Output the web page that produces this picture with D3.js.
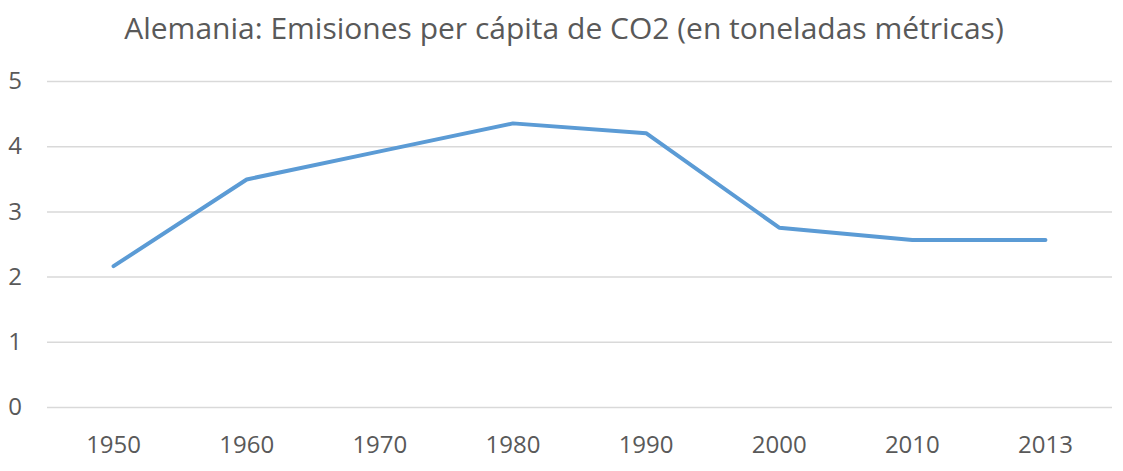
<!DOCTYPE html>
<html>
<head>
<meta charset="utf-8">
<script src="https://cdn.jsdelivr.net/npm/d3@7"></script>
<style>
  body { margin: 0; background: #fff; }
  svg { display: block; }
</style>
</head>
<body>
<svg id="chart" width="1123" height="471"></svg>
<script>
const years = ['1950', '1960', '1970', '1980', '1990', '2000', '2010', '2013'];
const emissions = [2.16, 3.49, 3.92, 4.35, 4.2, 2.75, 2.56, 2.56];
const yTicks = [0, 1, 2, 3, 4, 5];
const chartTitle = 'Alemania: Emisiones per cápita de CO2 (en toneladas métricas)';

function renderLineChart() {
  const svg = d3.select('#chart');
  const width = 1123, height = 471;
  const margin = {top: 81, right: 11, bottom: 64, left: 47};
  const chartWidth = width - margin.left - margin.right;
  const chartHeight = height - margin.top - margin.bottom;
  const textColor = '#595959';
  const font = 'Open Sans, Noto Sans, sans-serif';

  svg.append('rect').attr('width', width).attr('height', height).attr('fill', '#fff');

  const g = svg.append('g').attr('transform', `translate(${margin.left},${margin.top})`);

  // Scales
  const x = d3.scaleBand().domain(years).range([0, chartWidth]);
  const y = d3.scaleLinear().domain([0, 5]).range([chartHeight, 0]);

  // Grid lines
  const grid = g.append('g')
    .call(d3.axisLeft(y).tickValues(yTicks).tickSize(-chartWidth).tickFormat(''));
  grid.select('.domain').remove();
  grid.selectAll('line').attr('stroke', '#d9d9d9').attr('stroke-width', 1.5);

  // Y labels
  const yAxis = g.append('g')
    .call(d3.axisLeft(y).tickValues(yTicks).tickFormat(d3.format('d')).tickSize(0).tickPadding(32));
  yAxis.select('.domain').remove();
  yAxis.selectAll('text')
    .attr('fill', textColor)
    .attr('font-family', font)
    .attr('font-size', '24px')
    .attr('text-anchor', 'middle');

  // X labels
  const xAxis = g.append('g')
    .attr('transform', `translate(0,${chartHeight})`)
    .call(d3.axisBottom(x).tickSize(0).tickPadding(29));
  xAxis.select('.domain').remove();
  xAxis.selectAll('text')
    .attr('fill', textColor)
    .attr('font-family', font)
    .attr('font-size', '24px');

  // Line
  const line = d3.line()
    .x((d, i) => x(years[i]) + x.bandwidth() / 2)
    .y(d => y(d));

  g.append('path')
    .datum(emissions)
    .attr('d', line)
    .attr('fill', 'none')
    .attr('stroke', '#5b9bd5')
    .attr('stroke-width', 4)
    .attr('stroke-linejoin', 'round')
    .attr('stroke-linecap', 'round');

  // Title
  svg.append('text')
    .attr('x', 564)
    .attr('y', 39)
    .attr('text-anchor', 'middle')
    .attr('fill', textColor)
    .attr('font-family', font)
    .attr('font-size', '30px')
    .text(chartTitle);
}

renderLineChart();
</script>
</body>
</html>
